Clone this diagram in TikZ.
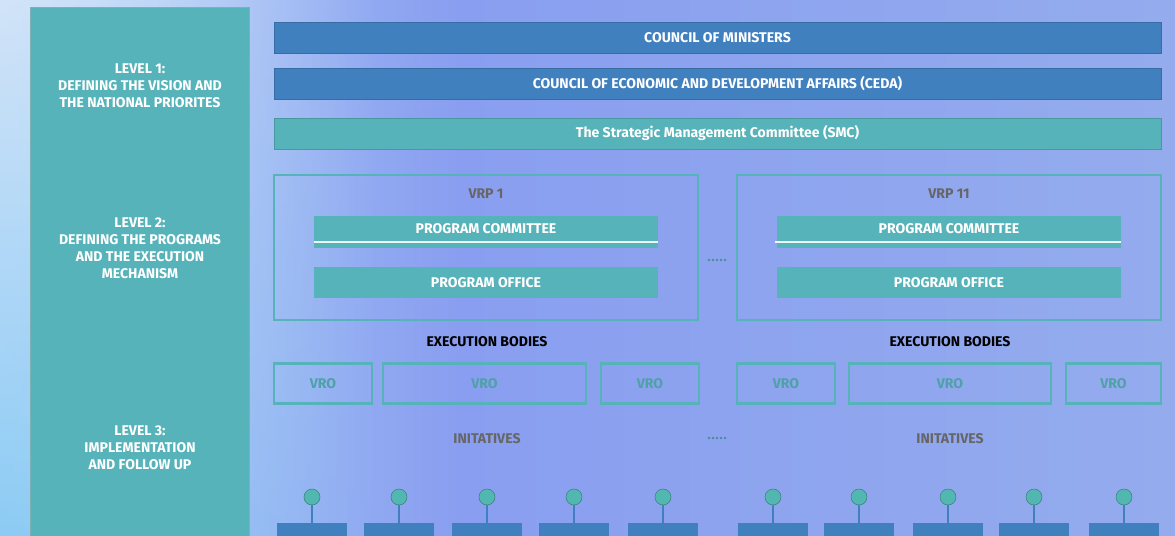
\documentclass[tikz,border=0pt]{standalone}
\usepackage{fontspec}
\setsansfont{Fira Sans}
\usepackage{tikz}
\usetikzlibrary{positioning, calc, fadings}
\definecolor{govblue}{HTML}{4180BF}
\definecolor{govteal}{HTML}{56B3B9}
\definecolor{govgray}{HTML}{666666}
\definecolor{bgleft}{HTML}{B0D4F7}
\definecolor{bgmid}{HTML}{899EF0}
\definecolor{bgright}{HTML}{94ACEE}
\definecolor{bgtop}{HTML}{D2E4F9}
\definecolor{bgbottom}{HTML}{8CCBF4}
\tikzfading[name=fadeleftside, left color=transparent!0, right color=transparent!100]
\newcommand{\govfont}{\fontsize{8}{9.6}\selectfont\sffamily\bfseries}

\begin{document}
\begin{tikzpicture}[
  x=0.02cm, y=-0.02cm,
  levelpanel/.style={rectangle, fill=govteal, draw=govteal!80!black!70, line width=0.4pt},
  leveltext/.style={align=center, text=white, font=\govfont},
  bluebar/.style={rectangle, fill=govblue, draw=govblue!85!black, line width=0.3pt, minimum width=17.74cm, minimum height=0.62cm, text=white, font=\govfont},
  tealbar/.style={bluebar, fill=govteal, draw=govteal!85!black},
  vrpbox/.style={rectangle, draw=govteal, line width=1pt, minimum width=8.48cm, minimum height=2.9cm},
  progbox/.style={rectangle, fill=govteal, minimum width=6.88cm, minimum height=0.63cm, text=white, font=\govfont},
  vrobox/.style={rectangle, draw=govteal, line width=1.3pt, minimum height=0.8cm, text=govteal!90!black, font=\govfont},
  grayhead/.style={text=govgray, font=\govfont},
  knob/.style={circle, fill=govteal!95!green, draw=govteal!70!black, line width=0.3pt, minimum size=0.32cm, inner sep=0pt},
  initbox/.style={rectangle, fill=govblue, minimum width=1.4cm, minimum height=0.6cm, inner sep=0pt},
  dotrow/.style={fill=govteal!80!black}
]
  \useasboundingbox (0,0) rectangle (1175,535);
  \clip (0,0) rectangle (1175,535);

  % Background
  \shade[left color=bgleft, right color=bgmid] (0,0) rectangle (460,535);
  \shade[left color=bgmid, right color=bgright] (459,0) rectangle (1175,535);
  \shade[top color=bgtop, bottom color=bgbottom, path fading=fadeleftside] (0,0) rectangle (380,535);

  % Level panel
  \path[levelpanel] (30,7) rectangle (249,545);
  \node[leveltext] (lvl1) at (140,86) {LEVEL 1:\\DEFINING THE VISION AND\\THE NATIONAL PRIORITES};
  \node[leveltext] (lvl2) at (140,248) {LEVEL 2:\\DEFINING THE PROGRAMS\\AND THE EXECUTION\\MECHANISM};
  \node[leveltext] (lvl3) at (140,448) {LEVEL 3:\\IMPLEMENTATION\\AND FOLLOW UP};

  % Level 1 bars
  \node[bluebar] (council) at (717.5,37.5) {COUNCIL OF MINISTERS};
  \node[bluebar, below=0.3cm of council] (ceda) {COUNCIL OF ECONOMIC AND DEVELOPMENT AFFAIRS (CEDA)};
  \node[tealbar] (smc) at (717.5,133.5) {The Strategic Management Committee (SMC)};

  % Level 2 programs
  \node[vrpbox] (vrp1) at (486,247.5) {};
  \node[vrpbox] (vrp11) at (949,247.5) {};
  \node[grayhead] (vrp1title) at (486,194) {VRP 1};
  \node[grayhead] (vrp11title) at (949,194) {VRP 11};
  \node[progbox] (pc1) at (486,232) {};
  \node[progbox] (pc11) at (949,232) {};
  \node[text=white, font=\govfont] at (486,229) {PROGRAM COMMITTEE};
  \node[text=white, font=\govfont] at (949,229) {PROGRAM COMMITTEE};
  \draw[white!90!govteal, line width=1pt] ([yshift=0.12cm]pc1.south west) -- ([yshift=0.12cm]pc1.south east);
  \draw[white!90!govteal, line width=1pt] ([xshift=-0.04cm, yshift=0.12cm]pc11.south west) -- ([yshift=0.12cm]pc11.south east);
  \node[progbox] (po1) at (486,282.5) {PROGRAM OFFICE};
  \node[progbox] (po11) at (949,282.5) {PROGRAM OFFICE};

  % Execution bodies
  \node[font=\govfont] (exec1) at (487,342) {EXECUTION BODIES};
  \node[font=\govfont] (exec11) at (950,342) {EXECUTION BODIES};
  \node[vrobox, minimum width=1.96cm] (vro1a) at (323,383.5) {VRO};
  \node[vrobox, minimum width=4.06cm] (vro1b) at (484.5,383.5) {VRO};
  \node[vrobox, minimum width=1.96cm] (vro1c) at (650,383.5) {VRO};
  \node[vrobox, minimum width=1.96cm] (vro11a) at (786,383.5) {VRO};
  \node[vrobox, minimum width=4.04cm] (vro11b) at (950,383.5) {VRO};
  \node[vrobox, minimum width=1.90cm] (vro11c) at (1113.5,383.5) {VRO};

  % Level 3 initiatives
  \node[grayhead] (init1) at (487,439) {INITATIVES};
  \node[grayhead] (init11) at (950,439) {INITATIVES};
  \foreach \x [count=\i] in {312,399,487,574,663,773,859,948,1034,1124} {
    \node[knob] (k\i) at (\x,497) {};
    \node[initbox, anchor=north] (ib\i) at (\x,523) {};
    \draw[govblue, line width=0.7pt] (k\i) -- (ib\i);
  }

  % Ellipsis between the two programs
  \foreach \y in {260,438} {
    \foreach \dx in {0,4,8,12,16} {
      \fill[dotrow] (709+\dx,\y) circle (1.3);
    }
  }
\end{tikzpicture}
\end{document}
